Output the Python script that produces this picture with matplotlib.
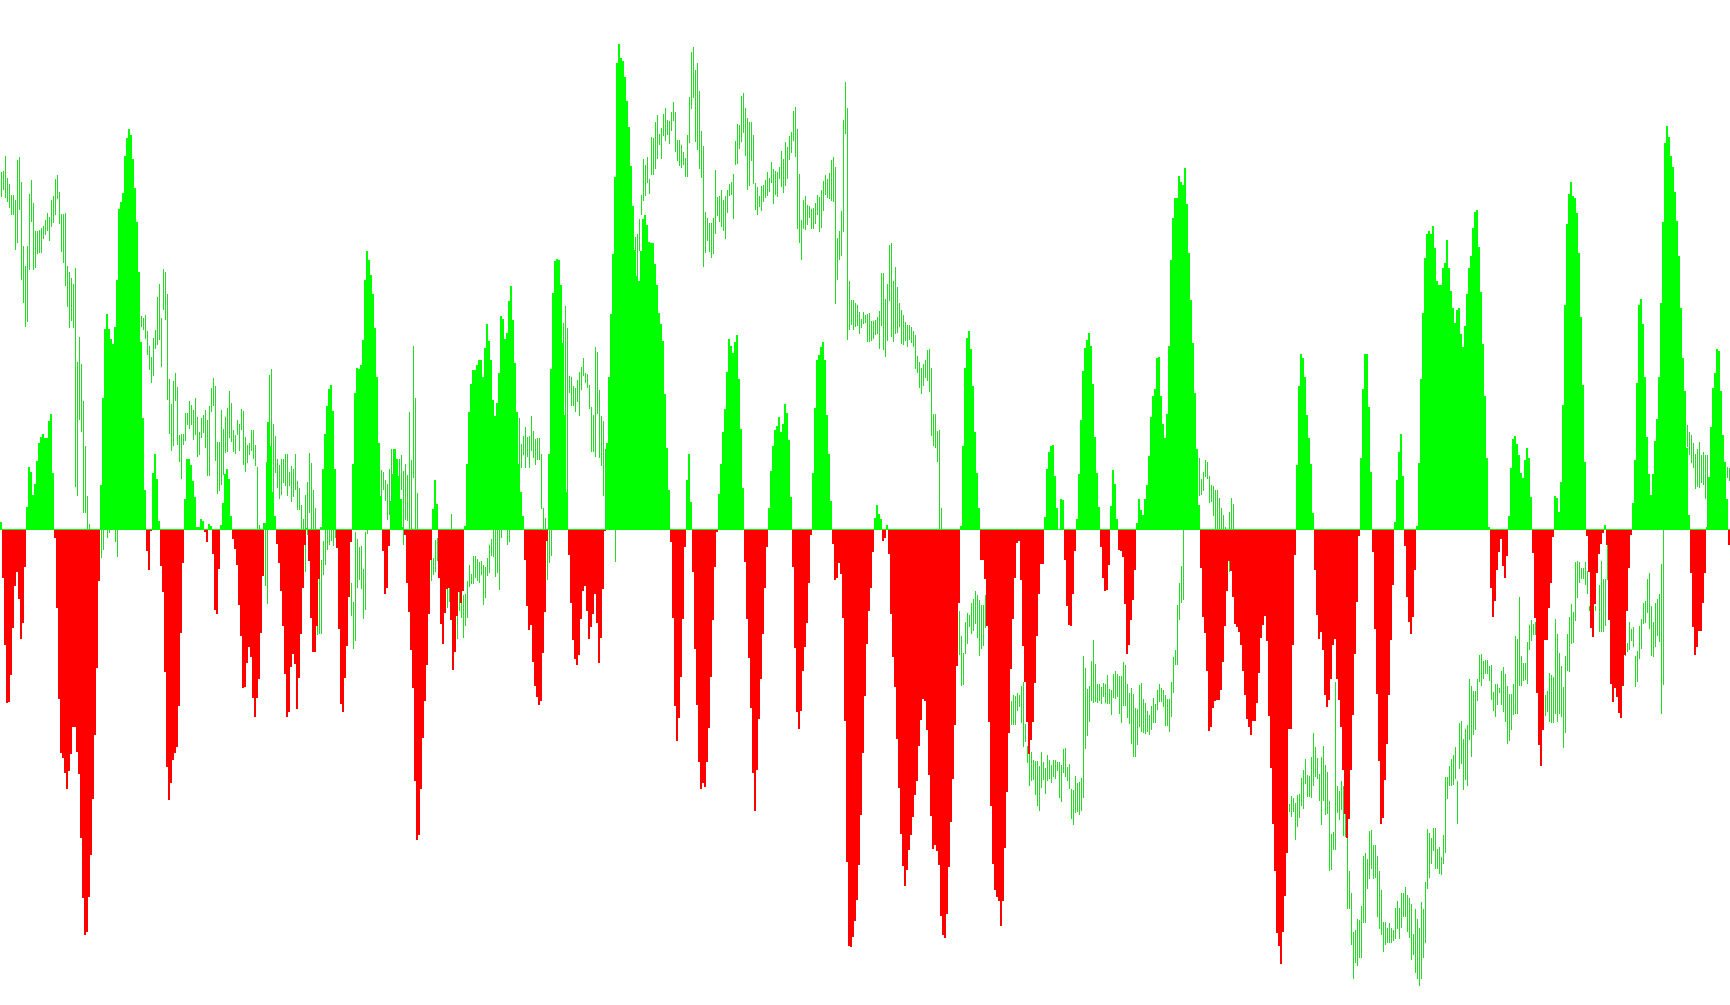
import numpy as np
import matplotlib
matplotlib.use("Agg")
import matplotlib.pyplot as plt

# Histogram values, one per bar (865 bars)
hist = [
    7, -49, -116, -174, -173, -146, -99, -57, -43, -70, -110, -94, -38,
    22, 62, 57, 34, 45, 68, 86, 92, 95, 91, 91, 108, 115, 56,
    -9, -79, -170, -224, -229, -244, -260, -242, -225, -198, -198, -223, -245, -309, -369, -406, -403, -368, -326, -270, -206, -139, -52,
    44, 131, 200, 215, 200, 190, 185, 202, 249, 320, 327, 336, 373, 391, 400, 394, 370, 341, 307, 257, 187, 111, 39,
    -22, -41, -2,
    56, 75, 50, 8,
    -37, -63, -143, -238, -271, -254, -231, -224, -218, -177, -104, -34,
    30, 70, 70, 64, 48, 32, 2, 2, 10, 8,
    -3, -13,
    5, 3,
    -25, -81, -85, -40,
    4, 26, 55, 60, 50, 13,
    -10, -20, -36, -76, -107, -159, -158, -134, -118, -128, -169, -188, -169, -150, -104, -47,
    6, 67, 107, 83, 37, 13,
    -15, -34, -62, -97, -145, -188, -183, -138, -125, -135, -180, -149, -105, -59, -16,
    1,
    -32, -89, -123, -123, -97, -50,
    2, 60, 95, 123, 140, 144, 118, 60,
    -19, -100, -175, -183, -149, -117, -68, -13,
    65, 136, 161, 160, 164, 189, 249, 278, 269, 254, 235, 201, 152, 86, 33,
    -22, -65, -59, -17,
    28, 55, 80, 70, 53, 30, 2,
    -6, -54, -83, -121, -159, -252, -311, -306, -260, -209, -172, -136, -85, -31,
    20, 49, 25,
    -49, -95, -115, -84, -60, -59, -91, -141, -123, -87, -63, -74, -62,
    3, 65, 117, 145, 159, 159, 164, 169, 169, 152, 181, 205, 188, 169, 129, 113, 126, 156, 213, 210, 190, 196, 228, 243, 209, 166, 117, 65, 37, 13,
    -31, -77, -101, -96, -133, -157, -168, -176, -172, -124, -83, -12,
    75, 160, 236, 268, 270, 269, 244, 186, 114, 37,
    -26, -74, -111, -130, -136, -126, -90, -62, -57, -82, -110, -98, -85, -65, -94, -134, -109, -60,
    -2,
    86, 152, 215, 275, 352, 466, 485, 471, 468, 452, 428, 402, 363, 323, 279, 253, 248, 278, 310, 314, 304, 287, 286, 286, 265, 244, 216, 205, 188, 135, 81, 39,
    -13, -89, -177, -212, -189, -148, -90, -18,
    49, 75, 27,
    -43, -120, -176, -233, -260, -254, -258, -233, -199, -148, -91, -38, -3,
    35, 65, 97, 120, 157, 190, 183, 176, 187, 194, 150, 100, 41,
    -33, -90, -129, -179, -244, -282, -241, -190, -150, -105, -59, -18,
    21, 58, 83, 99, 103, 112, 97, 105, 125, 116, 89, 32,
    -38, -119, -183, -200, -182, -142, -118, -94, -54, -6,
    56, 121, 169, 174, 182, 187, 169, 114, 75, 28,
    -15, -51, -49, -34, -45, -89, -192, -333, -417, -418, -408, -392, -371, -336, -286, -224, -167, -115, -82,
    -59, -23, 11, 24, 15, 10, -12, -9, 4,
    -25, -85, -128, -158, -210, -259, -305, -337, -357, -341, -321, -306, -288, -266, -252, -217, -191, -170, -172, -201,
    -246, -287, -320, -316, -322, -336, -387, -406, -409, -385, -338, -293, -250, -196, -137, -74,
    3, 83, 161, 191, 198, 180, 143, 97, 56, 21,
    -31, -31, -50, -97, -193, -277, -335, -361, -368, -372, -397, -372, -319, -263, -204, -140, -90, -49, -14, -12,
    -51, -117, -153, -193, -225, -211, -193, -154, -107, -65, -35, -35,
    12, 60, 77, 83, 84, 53, 21,
    0,
    30, 29,
    -31, -77, -96, -97, -65, -22,
    10, 55, 109, 158, 181, 189, 196, 183, 145, 92, 56, 22,
    -18, -49, -62, -61, -36,
    23, 59, 45, 10,
    -21, -22, -28, -75, -125, -116, -91, -71, -41,
    6, 30, 19, 14, 30, 44, 73, 112, 133, 140, 171, 172, 133, 105, 91, 115, 183, 269, 311, 331, 331, 353, 347, 344, 361, 325, 276, 229, 186, 136, 80, 24,
    -39, -88, -104, -142, -202, -198, -179, -172, -171, -171, -161, -133, -97, -62, -32, -42, -68, -95, -98, -103,
    -116, -142, -166, -190, -198, -206, -192, -192, -174, -144, -109, -96, -87, -112, -187, -239, -295, -342, -404, -417,
    -435, -403, -367, -324, -200, -200, -116, -26,
    64, 143, 175, 171, 152, 114, 91, 65, 16,
    -41, -86, -110, -103, -121, -166, -178, -171, -150, -116, -110, -150, -171, -198, -241, -285, -309, -290, -241, -186, -125, -73, -7,
    71, 140, 175, 175, 122, 57,
    -23, -100, -165, -232, -295, -289, -251, -215, -166, -111, -56,
    7, 49, 77, 95, 53,
    -17, -68, -93, -105, -88, -41,
    3, 66, 150, 216, 271, 295, 298, 295, 303, 281, 248, 244, 244, 261, 266, 289, 261, 238, 221, 206,
    219, 221, 195, 182, 203, 235, 261, 273, 301, 317, 319, 282, 237, 185, 133, 71, 2,
    -59, -88, -72, -41, -23, -10, -37, -49, -27,
    13, 61, 90, 93, 85, 74, 56, 51, 69, 81, 71, 32,
    -24, -89, -164, -216, -237, -201, -111, -111, -79, -54, -8,
    33, 31, 17, 47, 124, 224, 305, 335, 347, 333, 331, 316, 276, 212, 144, 67,
    -7, -43, -99, -108, -75, -44, -25, -15, -4,
    4,
    -16, -91, -155, -173, -159, -168, -184, -189, -157, -126, -82, -39, -6,
    26, 69, 146, 224, 230, 205, 152, 92, 55, 34, 55, 88, 110, 152, 226, 307, 386, 403, 392, 373,
    362, 337, 308, 273, 221, 171, 138, 81, 14,
    -44, -98, -126, -118, -102, -102, -74, -44,
    2, 52, 102, 141, 156, 180, 178, 138, 94, 67, 30,
    -16,
]

# High-low price bars: visible runs, each anchored at its first bar index
line_starts = [0, 50, 53, 57, 70, 131, 175, 190, 215, 223, 228, 253, 259, 281, 307,
               317, 479, 505, 599, 614, 644, 772, 797, 799, 812, 843, 863]

line_highs = [
    [357, 358, 373, 351, 345, 334, 334, 329, 369, 372, 347, 283, 263, 283, 335, 349, 326, 298, 298, 299,
     301, 303, 309, 316, 312, 329, 333, 350, 354, 337, 315, 315, 316, 263, 257, 251, 245, 261, 167, 192,
     165, 128, 83, 33, 5],
    [40, 100],
    [150, 150],
    [150, 200],
    [213, 211, 214, 198, 183, 172, 191, 199, 232, 245, 211, 260, 257, 235, 150, 125, 148, 156, 142, 94,
     95, 95, 116, 116, 128, 124, 119, 131, 112, 97, 111, 114, 119, 109, 123, 141, 151, 143, 87, 87,
     119, 100, 112, 121, 138, 126, 99, 94, 109, 105, 120, 118, 92, 84, 86, 99, 99, 84, 62, 4],
    [6, 5, 107, 154, 160, 105, 93, 70, 64, 70, 70, 75, 75, 57, 63, 60, 75, 48, 41, 24,
     10, 34, 47, 76, 66, 39, 21, -90, -50, -31, -12, 0, 10, 10, 10, 10, 10],
    [-54, -73, -3, -10, -18, -17, -40, -3, 0],
    [59, 57, 49, 45, 60, 80, 80, 80, 69, 70, 74, 58, 65, 54, 117, 69, 183, 131, 36],
    [-31, -29, -11, -9],
    [-60, -59, 15],
    [-87, -63, -74, -66, -65, -52, -36, -45, -27, -27, -30, -33, -32, -36, -38, -29, -16, -10, 0, 0, 0, 0, 0],
    [0, 0],
    [111, 85, 93, 102, 92, 93, 113, 98, 90, 91, 91, 75, 21, 11, -5, 0, 0],
    [206, 223, 201, 153, 152, 143, 141, 149, 157, 162, 171, 156, 155, 144, 122, 114, 182, 177, 139, 113, 108, 80],
    [0],
    [292, 295, 310, 334, 370, 364, 372, 350, 392, 391, 407, 414, 395, 401, 415, 421, 409, 408, 417, 427,
     417, 389, 389, 384, 377, 371, 394, 432, 477, 482, 459, 466, 438, 398, 383, 317, 311, 306, 306, 311,
     359, 332, 333, 339, 329, 333, 339, 345, 347, 355, 388, 405, 404, 433, 436, 421, 411, 407, 407, 394,
     346, 342, 333, 343, 344, 349, 357, 351, 367, 360, 358, 357, 362, 378, 370, 387, 382, 393, 397, 418,
     422, 400, 355, 309, 329, 333, 324, 323, 320, 321, 326, 334, 332, 339, 348, 354, 350, 356, 369, 372,
     362, 291, 298, 318, 409, 447, 421, 248, 229, 229, 226, 224, 217, 210, 217, 214, 215, 216,
     208, 208, 209, 212, 218, 256, 256, 230, 245, 284, 286, 248, 262, 242, 226, 219, 214, 207, 204, 204,
     202, 198, 194, 173, 167, 161, 165, 169, 179, 180, 161, 115, 115, 98, 99, 21],
    [-82, -107, -124, -93, -84, -86, -74, -70, -62, -66, -71, -76, -76, -66],
    [-172, -166, -167, -164, -166, -157, -153, -195, -217, -223, -223, -231, -232, -232, -237, -223, -233, -239, -226, -231,
     -236, -231, -231, -233, -233, -236, -220, -219, -238, -235, -260, -261, -247, -254, -253, -249, -127, -139, -160, -157,
     -132, -111, -135, -155, -155, -158, -154, -155, -146, -160, -161, -145, -142, -145, -147, -147, -133, -136, -155, -164,
     -159, -165, -179, -180, -156, -154, -170, -174, -182, -186, -177, -169, -175, -161, -155, -159, -161, -166, -170, -170,
     -153, -128, -121, -76, -54, -37, -1],
    [71, 50, 57, 69, 67, 53, 44, 43, 39, 39, 31, 21, 14, 2],
    [17, 31, 25],
    [-275, -267, -269, -274, -266, -265, -249, -241,
     -230, -246, -247, -228, -204, -218, -229, -245, -228, -217,
     -236, -243, -272, -305, -303, -153, -257, -262, -252, -257,
     -285, -309, -342, -364, -403, -401, -390, -391, -377, -327,
     -324, -330, -302, -301, -316, -316, -327, -342, -361, -393,
     -393, -399, -394, -399, -401, -379, -372, -379, -364, -364,
     -358, -366, -369, -375, -405, -380, -390, -399, -373, -380,
     -353, -300, -304, -309, -299, -299, -320, -318, -328, -306,
     -248, -248, -237, -230, -226, -218, -252, -194, -192, -210,
     -200, -196, -150, -157, -162, -162, -150, -126, -125, -132,
     -131, -131, -137, -136, -163, -155, -155, -159, -142, -138,
     -145, -157, -165, -165, -155, -107, -110, -68, -127, -134,
     -134, -113, -96, -91, -95, -93],
    [-166, -162, -144, -146, -148, -90, -105, -124, -137, -158, -127, -105, -88, -75, -83, -33, -32, -33, -39, -39,
     -33, -42, -77],
    [-77],
    [-56, -32, -50, -50, -16],
    [-109, -114, -93, -100, -98, -127, -122, -97, -90, -74, -72, -50, -44, -77, -93, -74, -70, -65, -35, -1],
    [104, 97, 94, 86, 75, 80, 87, 74, 77, 74, 74],
    [62, 61],
]

line_lows = [
    [333, 340, 332, 328, 322, 315, 315, 280, 287, 320, 250, 227, 203, 208, 260, 308, 260, 262, 276, 277,
     277, 291, 295, 299, 289, 303, 307, 315, 331, 306, 278, 267, 244, 223, 202, 209, 202, 43, 34, 110,
     98, 17, 17, 0, -2],
    [-28, -20],
    [-8, -3],
    [-12, -27],
    [203, 200, 191, 175, 160, 147, 154, 181, 185, 190, 163, 220, 210, 130, 96, 79, 84, 129, 85, 68,
     51, 85, 89, 105, 101, 105, 90, 95, 73, 75, 92, 97, 82, 54, 54, 118, 124, 69, 36, 39,
     45, 55, 77, 78, 92, 88, 78, 76, 95, 79, 100, 65, 58, 67, 75, 79, 71, 64, 0, 0],
    [0, -56, -74, 83, 37, 37, 57, 42, 31, 35, 47, 44, 34, 44, 28, 33, 40, 20, 20, 0,
     0, -42, -5, 17, 0, 0, 0, -105, -104, -104, -45, -35, -20, -15, -11, -16, -8],
    [-86, -119, -111, -58, -50, -59, -89, -80, -4],
    [33, 40, 29, 10, 15, 20, 40, 54, 49, 19, 40, -15, 10, 9, 0, 0, 52, 0, 0],
    [-51, -45, -42, -31],
    [-78, -72, 0],
    [-109, -81, -88, -108, -96, -88, -57, -54, -54, -48, -51, -53, -45, -75, -68, -46, -43, -26, -27, -47, -43, -60, -8],
    [-15, -12],
    [65, 62, 75, 62, 73, 62, 79, 72, 65, 70, 70, 21, 0, 0, -50, -33, -26],
    [186, 114, 37, 137, 124, 124, 118, 128, 114, 140, 154, 147, 142, 121, 78, 78, 73, 116, 72, 64, 34, 1],
    [-32],
    [278, 253, 279, 315, 329, 334, 347, 336, 355, 355, 361, 371, 385, 371, 394, 389, 395, 386, 399, 409,
     378, 369, 364, 362, 365, 353, 353, 387, 421, 432, 388, 380, 361, 352, 263, 277, 289, 278, 272, 276,
     296, 314, 308, 303, 299, 291, 317, 334, 335, 311, 365, 366, 381, 388, 397, 374, 340, 344, 369, 346,
     320, 315, 323, 319, 328, 332, 334, 338, 347, 326, 335, 333, 351, 343, 337, 344, 351, 370, 377, 389,
     373, 301, 287, 270, 301, 300, 305, 312, 301, 301, 306, 315, 298, 302, 319, 335, 332, 331, 329, 328,
     226, 250, 270, 274, 298, 396, 190, 200, 205, 200, 203, 204, 196, 202, 206, 207, 188, 188,
     189, 191, 195, 196, 181, 204, 180, 173, 189, 229, 193, 188, 196, 197, 203, 186, 185, 189, 183, 190,
     187, 183, 161, 157, 142, 136, 144, 152, 149, 138, 94, 84, 82, 68, 0, 0],
    [-125, -156, -155, -124, -114, -97, -104, -101, -94, -108, -126, -119, -116, -98],
    [-195, -195, -195, -181, -177, -193, -217, -212, -233, -256, -251, -250, -265, -276, -281, -258, -250, -264, -251, -249,
     -253, -247, -249, -241, -268, -272, -243, -247, -251, -259, -289, -295, -283, -282, -285, -281, -268, -219, -206, -192,
     -171, -173, -172, -173, -171, -174, -167, -173, -174, -174, -185, -168, -169, -167, -184, -193, -176, -176, -188, -194,
     -214, -227, -227, -215, -197, -202, -203, -204, -202, -205, -200, -193, -193, -180, -172, -172, -177, -196, -196, -202,
     -187, -163, -135, -135, -90, -73, -70],
    [34, 35, 39, 53, 51, 27, 28, 14, 0, 0, 0, 0, 0, 0],
    [-42, 0, 0],
    [-282, -287, -282, -310, -297, -288, -276, -279,
     -254, -267, -267, -268, -256, -247, -249, -271, -295, -271,
     -285, -284, -341, -340, -320, -320, -283, -290, -280, -306,
     -307, -379, -379, -415, -449, -433, -436, -428, -428, -393,
     -393, -359, -349, -339, -349, -348, -387, -399, -405, -422,
     -415, -413, -413, -413, -411, -409, -399, -409, -398, -387,
     -387, -402, -408, -430, -425, -443, -449, -456, -449, -428,
     -413, -359, -348, -334, -321, -339, -339, -344, -345, -334,
     -323, -269, -256, -256, -255, -249, -294, -239, -234, -260,
     -250, -256, -210, -227, -205, -200, -171, -152, -156, -149,
     -144, -144, -151, -170, -181, -187, -175, -163, -175, -182,
     -192, -214, -211, -200, -185, -184, -184, -156, -156, -151,
     -150, -154, -120, -111, -105, -105],
    [-186, -182, -192, -193, -193, -184, -192, -184, -187, -218, -203, -141, -142, -114, -113, -91, -68, -53, -49, -49,
     -55, -64, -81],
    [-81],
    [-102, -102, -102, -96, -50],
    [-126, -122, -120, -111, -117, -157, -152, -129, -119, -94, -93, -83, -99, -126, -127, -117, -106, -112, -184, -155],
    [83, 75, 67, 62, 41, 43, 42, 47, 45, 31, 2],
    [52, 49],
]

GREEN = "#00ff00"
RED = "#ff0000"
LINE_GREEN = "#22dd22"

h = np.array(hist, dtype=float)
x = np.arange(len(h))
bar_colors = np.where(h >= 0, GREEN, RED)

lx, lhi, llo = [], [], []
for start, highs, lows in zip(line_starts, line_highs, line_lows):
    for k, (a, b) in enumerate(zip(highs, lows)):
        lx.append(start + k)
        lhi.append(a)
        llo.append(b)

fig = plt.figure(figsize=(17.30, 10.05), dpi=100)
ax = fig.add_axes([0, 0, 1, 1])
ax.set_xlim(-0.5, 864.5)
ax.set_ylim(-476, 529)
ax.axis("off")

ax.vlines(lx, llo, lhi, colors=LINE_GREEN, linewidth=0.6, antialiased=False, zorder=1)
ax.bar(x, h, width=1.0, color=bar_colors, linewidth=0, antialiased=False, zorder=2)
ax.axhline(0.5, color=GREEN, linewidth=0.6, antialiased=False, zorder=3)

fig.savefig("out.png", dpi=100, facecolor="white")
